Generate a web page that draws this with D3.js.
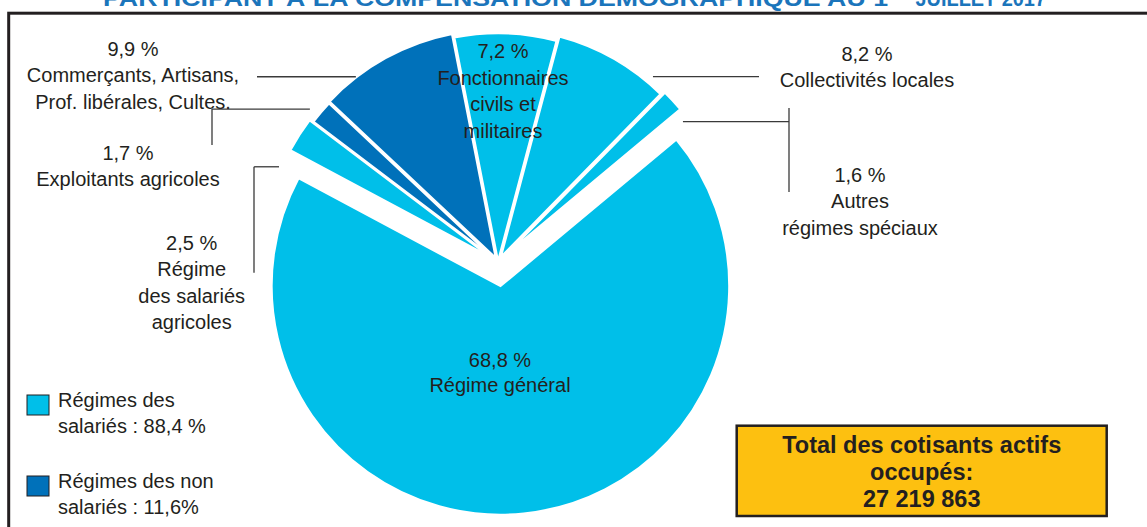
<!DOCTYPE html>
<html><head><meta charset="utf-8">
<script src="https://cdn.jsdelivr.net/npm/d3@7/dist/d3.min.js"></script>
<style>
html,body{margin:0;padding:0;background:#fff;}
svg{display:block;font-family:"Liberation Sans",Arial,sans-serif;}
</style></head>
<body>
<svg id="chart" width="1147" height="527"></svg>
<script>
// ---- data ----
const categories = ["Régime général", "Régime des salariés agricoles", "Exploitants agricoles",
  "Commerçants, Artisans, Prof. libérales, Cultes.", "Fonctionnaires civils et militaires",
  "Collectivités locales", "Autres régimes spéciaux"];
const shares = [68.8, 2.5, 1.7, 9.9, 7.2, 8.2, 1.6];
const groups = ["salaries", "salaries", "nonSalaries", "nonSalaries", "salaries", "salaries", "salaries"];
const labelLines = [["Régime général"], ["Régime", "des salariés", "agricoles"], ["Exploitants agricoles"],
  ["Commerçants, Artisans,", "Prof. libérales, Cultes."], ["Fonctionnaires", "civils et", "militaires"],
  ["Collectivités locales"], ["Autres", "régimes spéciaux"]];
const legendGroups = ["salaries", "nonSalaries"];
const legendLabels = [["Régimes des", "salariés : 88,4 %"], ["Régimes des non", "salariés : 11,6%"]];
const totalLines = ["Total des cotisants actifs", "occupés:", "27 219 863"];
const titleMain = "PARTICIPANT À LA COMPENSATION DÉMOGRAPHIQUE AU 1";
const titleSup = "er";
const titleEnd = " JUILLET 2017";

// ---- styles / layout ----
const colors = {salaries: "#00BFE9", nonSalaries: "#0071BA"};
const textColor = "#231f20";
const cx = 498, cy = 262, R = 229;
const startDeg = 50.2;
const explode = [24, 7, 3, 4, 0, 5, 9];
// label anchors: [x, first baseline y]
const labelPos = [[500, 366.7], [191.7, 250], [128, 160], [133, 56], [503, 58.3], [867, 60.7], [860, 181.7]];
// leaders: start angle (deg), distance, horizontal end x, optional vertical [y1,y2]
const leaders = [null, {a: 293.5, d: 238.8, x: 254, v: [166.7, 272.7]},
  {a: 309.1, d: 242.4, x: 212, v: [109, 145]}, {a: 322.5, d: 233.5, x: 257},
  null, {a: 39.9, d: 241.6, x: 759}, {a: 52.8, d: 232.2, x: 789, v: [108, 192]}];

const svg = d3.select("#chart");
const rad = Math.PI / 180;

// frame
svg.append("rect").attr("x", 8.7).attr("y", 13.2).attr("width", 1200).attr("height", 600)
  .attr("fill", "none").attr("stroke", textColor).attr("stroke-width", 3);

// title (cut at top, as in the reference)
const title = svg.append("text").attr("x", 103).attr("y", 6)
  .attr("font-family", "'Liberation Sans Narrow','Liberation Sans',Arial,sans-serif")
  .attr("font-weight", "bold").attr("font-size", 22).attr("fill", "#1B75BB");
title.append("tspan").text(titleMain).attr("textLength", 785).attr("lengthAdjust", "spacingAndGlyphs");
title.append("tspan").text(titleSup).attr("font-size", 13).attr("dy", -9);
title.append("tspan").text(titleEnd).attr("dy", 9).attr("x", 910).attr("textLength", 136).attr("lengthAdjust", "spacingAndGlyphs");

// pie
const pie = d3.pie().sort(null).value(d => d)
  .startAngle(startDeg * rad).endAngle((startDeg + 360) * rad);
const arcs = pie(shares);
const arc = d3.arc().innerRadius(0).outerRadius(R);

svg.append("g").selectAll("path").data(arcs).join("path")
  .attr("transform", (d, i) => {
    const m = (d.startAngle + d.endAngle) / 2;
    return `translate(${cx + explode[i] * Math.sin(m)},${cy - explode[i] * Math.cos(m)})`;
  })
  .attr("d", arc)
  .attr("fill", (d, i) => colors[groups[i]])
  .attr("stroke", "#fff").attr("stroke-width", 2.5).attr("stroke-linejoin", "miter");

// leaders
const lg = svg.append("g").attr("stroke", "#3a3a3a").attr("stroke-width", 1.3).attr("fill", "none");
leaders.forEach(l => {
  if (!l) return;
  const x0 = cx + l.d * Math.sin(l.a * rad), y0 = cy - l.d * Math.cos(l.a * rad);
  lg.append("line").attr("x1", x0).attr("y1", y0).attr("x2", l.x).attr("y2", y0);
  if (l.v) lg.append("line").attr("x1", l.x).attr("y1", l.v[0]).attr("x2", l.x).attr("y2", l.v[1]);
});

// labels
const fmt = v => d3.format(".1f")(v).replace(".", ",") + " %";
const labG = svg.append("g").attr("font-size", 20).attr("fill", textColor).attr("text-anchor", "middle");
shares.forEach((v, i) => {
  const [x, y] = labelPos[i];
  const lines = [fmt(v)].concat(labelLines[i]);
  const lh = i === 0 ? 25 : 26.4;
  lines.forEach((t, j) => labG.append("text").attr("x", x).attr("y", y + j * lh).text(t));
});

// legend
const leg = svg.append("g");
legendGroups.forEach((g, i) => {
  const y0 = 395 + i * 81;
  leg.append("rect").attr("x", 27).attr("y", y0).attr("width", 22).attr("height", 20)
    .attr("fill", colors[g]).attr("stroke", textColor).attr("stroke-width", 1);
  legendLabels[i].forEach((t, j) => leg.append("text").attr("x", 58).attr("y", y0 + 11.7 + j * 26.6)
    .attr("font-size", 20).attr("fill", textColor).text(t));
});

// total box
const tb = svg.append("g");
tb.append("rect").attr("x", 736.7).attr("y", 425.7).attr("width", 370).attr("height", 90.3)
  .attr("fill", "#FDC010").attr("stroke", textColor).attr("stroke-width", 2.5);
totalLines.forEach((t, j) => tb.append("text").attr("x", 921.7).attr("y", 453.3 + j * 26.7)
  .attr("text-anchor", "middle").attr("font-weight", "bold").attr("font-size", 23.5)
  .attr("fill", textColor).text(t));
</script>
</body></html>
